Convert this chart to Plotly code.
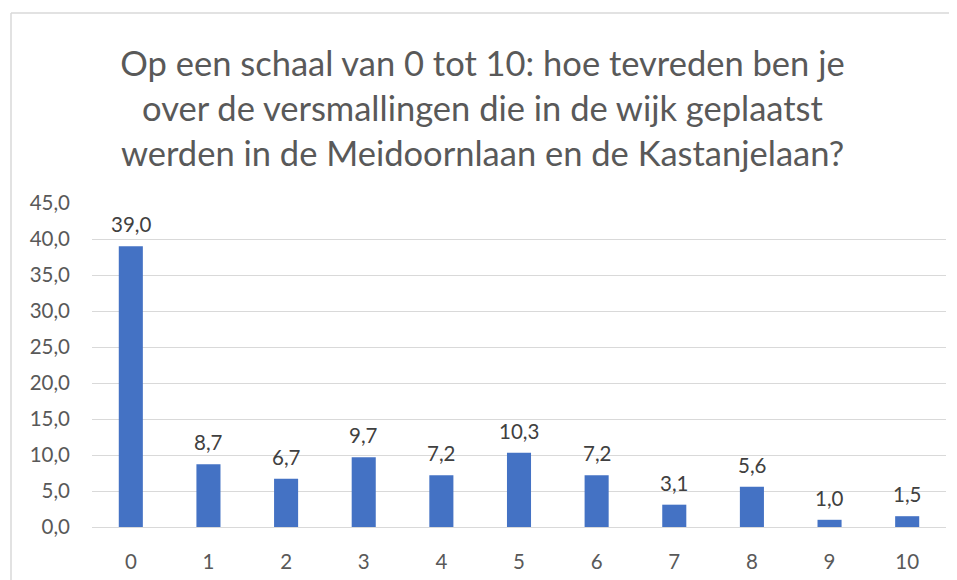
import plotly.graph_objects as go

categories = ["0", "1", "2", "3", "4", "5", "6", "7", "8", "9", "10"]
values = [39.0, 8.7, 6.7, 9.7, 7.2, 10.3, 7.2, 3.1, 5.6, 1.0, 1.5]
y_ticks = [0, 5, 10, 15, 20, 25, 30, 35, 40, 45]
title_lines = [
    "Op een schaal van 0 tot 10: hoe tevreden ben je",
    "over de versmallingen die in de wijk geplaatst",
    "werden in de Meidoornlaan en de Kastanjelaan?",
]

FONT = "Lato"
GRAY = "#595959"
W, H = 949, 572  # page has 8px body offset

fig = go.Figure(
    go.Bar(
        x=categories,
        y=values,
        marker=dict(color="#4472C4", line=dict(width=0)),
        width=0.31,
        hoverinfo="x+y",
    )
)

annotations = [
    dict(x=c, y=v, xref="x", yref="y", text=f"{v:.1f}".replace(".", ","),
         showarrow=False, yanchor="bottom", xanchor="center", yshift=8,
         font=dict(family=FONT, size=20.5, color="#404040"))
    for c, v in zip(categories, values)
]

fig.update_layout(
    width=W,
    height=H,
    margin=dict(l=84, r=11, t=195, b=53, autoexpand=False),
    paper_bgcolor="white",
    plot_bgcolor="white",
    separators=",.",
    showlegend=False,
    font=dict(family=FONT, color=GRAY),
    title=dict(
        text="<br>".join(title_lines),
        x=0.5,
        xref="container",
        xanchor="center",
        y=1 - 68 / H,
        yref="container",
        yanchor="top",
        font=dict(family=FONT, size=34.5, color=GRAY),
    ),
    xaxis=dict(
        type="category",
        tickfont=dict(family=FONT, size=20.5, color=GRAY),
        showgrid=False,
        showline=False,
        ticks="",
        ticklabelstandoff=20,
    ),
    yaxis=dict(
        range=[0, 45],
        tickvals=y_ticks,
        tickformat=".1f",
        tickfont=dict(family=FONT, size=20.5, color=GRAY),
        showgrid=True,
        gridcolor="#D9D9D9",
        gridwidth=1,
        zeroline=True,
        zerolinecolor="#D9D9D9",
        zerolinewidth=1,
        showline=False,
        ticks="",
        ticklabelstandoff=21,
    ),
    annotations=annotations,
    shapes=[
        dict(type="line", xref="paper", yref="paper",
             x0=(3 - 84) / 854, x1=(3 - 84) / 854,
             y0=(519 - 5) / 324, y1=(519 - 590) / 324,
             line=dict(color="#D9D9D9", width=1.5)),
        dict(type="line", xref="paper", yref="paper",
             x0=(3 - 84) / 854, x1=(960 - 84) / 854,
             y0=(519 - 5) / 324, y1=(519 - 5) / 324,
             line=dict(color="#D9D9D9", width=1.5)),
    ],
)

fig.write_html("out.html")
